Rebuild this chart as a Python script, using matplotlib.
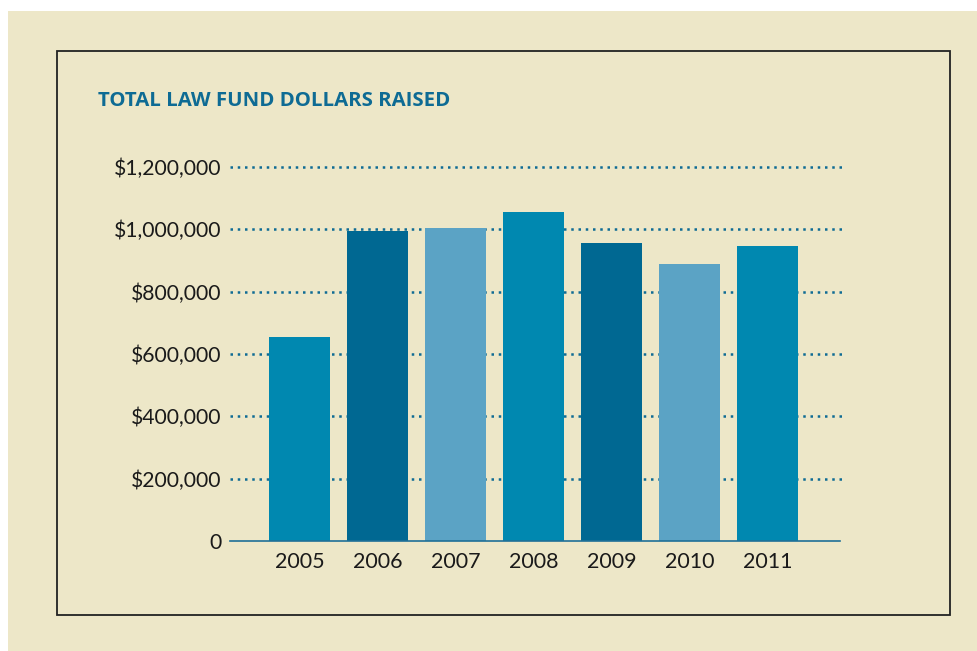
import matplotlib.pyplot as plt
from matplotlib.patches import Rectangle

years = ["2005", "2006", "2007", "2008", "2009", "2010", "2011"]
raised = [655000, 995000, 1005000, 1055000, 957000, 890000, 945000]
bar_colors = ["#0088b0", "#006892", "#5ba3c5", "#0088b0", "#006892", "#5ba3c5", "#0088b0"]
yticks = [0, 200000, 400000, 600000, 800000, 1000000, 1200000]
ytick_labels = ["0", "$200,000", "$400,000", "$600,000", "$800,000", "$1,000,000", "$1,200,000"]

W, H = 978, 651
beige = "#ede7c8"
blue = "#0e6b94"

fig = plt.figure(figsize=(W / 100, H / 100), dpi=100, facecolor="white")

# beige panel and framed box
fig.patches.append(Rectangle((8 / W, 0), 1, 1 - 11 / H, transform=fig.transFigure,
                             facecolor=beige, edgecolor="none", zorder=-2))
fig.patches.append(Rectangle((57 / W, 1 - 615 / H), (950 - 57) / W, (615 - 51) / H,
                             transform=fig.transFigure, facecolor="none",
                             edgecolor="#222222", linewidth=1.3, zorder=-1))

ax = fig.add_axes([230 / W, 1 - 541 / H, (843 - 230) / W, (541 - 167) / H])
ax.set_zorder(2)
ax.set_facecolor("none")
x = range(len(years))
ax.bar(x, raised, width=0.78, color=bar_colors, zorder=3)

ax.set_xlim(-0.89, 6.97)
ax.set_ylim(0, 1200000)

for v in yticks[1:]:
    ax.axhline(v, color=blue, linewidth=1.8, linestyle=(0, (1, 1.9)),
               dash_capstyle="butt", clip_on=False, zorder=2)
ax.plot([-0.89, 6.93], [0, 0], color="#1f7097", linewidth=1.2, clip_on=False, zorder=4)

for s in ax.spines.values():
    s.set_visible(False)

ax.set_yticks(yticks)
ax.set_yticklabels(ytick_labels, fontfamily="Lato", fontsize=15.2, color="#1a1a1a")
ax.set_xticks(list(x))
ax.set_xticklabels(years, fontfamily="Lato", fontsize=15.5, color="#1a1a1a")
ax.tick_params(axis="both", length=0)
ax.tick_params(axis="y", pad=6)
ax.tick_params(axis="x", pad=8)

fig.text(98 / W, 1 - 101 / H, "TOTAL LAW FUND DOLLARS RAISED", fontfamily="Open Sans",
         fontweight="bold", fontsize=14.7, color=blue, va="center", ha="left")

fig.savefig("out.png", dpi=100, facecolor="white")
